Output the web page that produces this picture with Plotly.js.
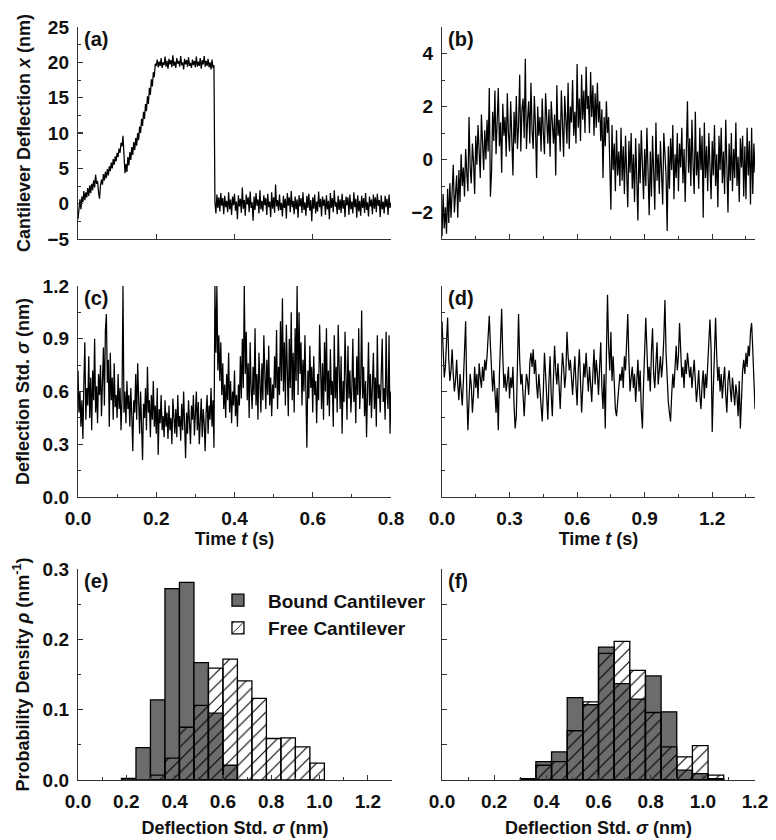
<!DOCTYPE html>
<html>
<head>
<meta charset="utf-8">
<script src="https://cdn.plot.ly/plotly-3.0.1.min.js"></script>
<style>html,body{margin:0;padding:0;background:#fff;}#chart{width:776px;height:840px;}</style>
</head>
<body>
<div id="chart"></div>
<script>
// ---------- Data ----------
// (a) bound cantilever deflection x (nm), sampled every dtA seconds, 0 .. 0.8 s
const dtA = 0.0025;
const deflA = [
-2.2,-0.5,0.6,-0.8,1.0,0.2,1.8,0.5,1.6,0.9,
2.2,1.1,2.6,1.5,2.8,1.9,3.3,2.3,4.1,2.8,
3.2,1.6,0.7,2.6,3.4,2.7,4.2,3.3,4.5,3.6,
4.9,4.0,5.3,4.6,5.8,5.0,6.3,5.5,6.7,6.0,
7.2,6.6,7.8,7.2,8.6,8.1,9.6,7.0,4.3,5.6,
4.5,6.6,5.4,7.3,6.2,8.0,6.9,8.7,7.6,9.3,
8.2,10.0,9.0,10.9,10.0,12.0,11.0,13.0,12.0,14.1,
13.1,15.2,14.1,16.4,15.4,17.6,16.6,18.6,17.9,19.8,
19.5,
20.4,19.3,20.1,19.5,20.6,19.2,20.0,19.6,20.8,19.4,
20.2,19.1,20.5,19.7,20.3,19.3,21.0,19.5,20.1,19.2,
20.6,19.8,20.2,19.4,20.9,19.6,20.0,19.0,20.5,19.7,
20.3,19.4,20.7,19.5,19.9,19.2,20.4,19.6,20.2,19.3,
20.8,19.4,20.1,19.5,20.6,19.1,20.3,19.7,20.9,19.4,
20.2,19.5,20.5,19.3,20.0,19.0,20.4,19.2,19.6,
0.2,-1.4,1.3,-0.6,0.9,-1.1,1.5,-0.3,0.8,-1.5,
1.1,-0.5,0.4,-1.2,1.6,-0.8,0.6,-1.6,1.0,-0.2,
1.4,-1.0,0.3,-2.2,1.2,-0.4,0.7,-1.3,2.3,-0.7,
0.5,-1.7,1.3,-0.1,0.9,-1.2,1.7,-0.6,0.2,-2.4,
1.0,-0.9,1.5,-0.3,0.6,-1.4,1.9,-0.8,0.4,-1.1,
1.2,-0.2,0.8,-1.6,1.4,-0.5,0.3,-1.9,1.6,-0.7,
0.9,-1.3,2.7,-0.4,0.5,-1.0,1.3,-0.9,0.1,-1.8,
1.1,-0.6,0.7,-2.1,1.5,-0.3,0.9,-1.2,1.8,-0.5,
0.4,-1.5,1.0,-0.8,0.6,-2.0,1.2,-0.4,0.8,-1.3,
1.6,-0.9,0.2,-1.7,1.1,-0.6,1.4,-1.0,0.5,-2.5,
0.9,-0.7,1.3,-1.4,0.3,-1.1,1.7,-0.5,0.7,-1.8,
1.0,-0.3,0.6,-1.6,1.2,-0.8,0.4,-2.2,1.5,-0.6,
0.8,-1.2,1.9,-0.4,0.2,-1.5,1.1,-0.9,0.6,-1.3,
1.4,-0.7,0.5,-1.9,1.0,-0.2,0.9,-1.6,1.3,-0.8,
0.3,-1.4,1.6,-0.5,0.7,-2.0,1.2,-1.1,0.4,-1.7,
1.1,-0.6,0.8,-1.3,1.5,-0.9,0.2,-1.8,1.0,-0.4,
0.6,-1.5,1.3,-0.7,0.9,-1.2,1.4,-0.3,0.5,-1.9,
1.2,-0.8,0.3,-1.4,1.1,-0.5,0.7,-1.6,1.3,-0.6,
0.1
];

// (b) free cantilever deflection x (nm), sampled every dtB seconds, 0 .. 1.39 s
const dtB = 0.005;
const deflB = [
-2.9,-1.3,-2.6,-1.8,-2.8,-1.1,-2.4,-0.9,-2.2,-1.4,
-0.2,-2.0,-1.2,-0.6,-2.2,-0.4,-1.6,0.2,-1.0,-0.3,
-1.4,0.4,-0.5,-1.2,1.6,-0.3,-0.9,0.6,-0.1,-1.3,
0.9,-0.2,1.3,0.1,-0.7,1.7,0.4,-0.4,1.1,0.0,
1.5,0.3,2.7,-1.4,-0.5,1.8,0.7,2.6,0.2,1.2,
2.7,0.5,1.4,-0.5,2.1,0.9,1.6,0.1,2.5,1.0,
0.3,2.2,1.1,-0.6,1.8,0.6,2.4,0.4,1.3,3.2,
0.3,1.9,2.3,0.8,3.8,0.4,1.5,2.2,0.6,2.9,
1.1,0.4,2.4,1.3,-0.7,2.0,0.9,1.6,0.3,2.3,
1.0,0.2,2.5,1.4,0.6,1.9,0.1,2.2,1.2,0.6,
1.7,-0.6,2.8,0.9,1.5,0.3,2.6,1.1,0.1,2.4,
1.3,0.6,2.9,0.4,2.0,1.4,3.0,0.9,1.8,0.6,
3.6,1.2,2.3,0.7,3.2,1.5,2.6,1.0,3.5,1.9,
2.4,1.0,3.3,1.6,2.8,0.9,2.5,1.2,2.9,1.4,
2.2,0.7,1.9,-0.7,1.6,0.5,2.2,1.0,1.6,-0.9,
-1.9,1.3,-0.4,0.6,-1.2,1.1,-0.6,0.3,-1.0,1.2,
-0.8,0.5,-1.3,0.9,-0.3,-1.8,0.7,-0.5,1.0,-1.1,
0.2,-1.6,0.8,-0.4,-2.3,0.6,-0.9,1.1,-0.2,-1.5,
0.4,-1.0,1.2,-0.6,-2.1,0.3,-1.4,0.9,-0.3,-1.9,
1.4,-0.8,0.2,-1.3,0.7,-0.5,-1.7,1.0,-0.2,-0.6,
-2.7,0.5,-1.1,0.8,-0.4,1.3,-1.5,0.2,-0.7,1.0,
-1.2,0.6,-0.3,1.2,-0.9,0.4,-1.6,0.7,2.2,-0.5,
0.8,-1.0,1.5,-0.2,-1.3,1.8,-0.6,0.3,-1.1,1.2,
-0.4,0.9,-2.2,1.4,-0.7,0.5,-1.2,1.0,-0.3,-1.5,
0.7,-0.6,1.3,-1.0,0.2,-1.8,0.9,-0.4,1.2,-0.9,
0.3,-1.3,1.5,-0.5,-2.0,0.6,-0.8,1.0,-1.2,0.4,
-0.7,1.4,-1.0,0.1,-1.6,0.8,-0.3,0.9,-1.4,0.5,
-1.5,1.2,-0.6,0.7,-1.7,1.2,-1.3,0.6,-0.5
];

// (c) bound cantilever deflection std sigma (nm), every dtC seconds, 0 .. 0.8 s
const dtC = 0.0025;
const sigmaC = [
0.72,0.48,0.60,0.40,0.55,0.33,0.65,0.88,0.44,0.62,
0.52,0.80,0.45,0.68,0.38,0.72,0.55,0.90,0.48,0.63,
0.42,0.70,0.58,0.75,0.46,0.64,0.85,0.52,0.95,1.04,
0.65,0.78,0.40,0.82,0.55,0.68,0.44,0.76,0.51,0.58,
0.45,0.70,0.50,0.62,0.38,0.56,1.20,0.48,0.60,0.42,
0.66,0.50,0.58,0.40,0.62,0.46,0.26,0.55,0.48,0.70,
0.44,0.76,0.52,0.36,0.60,0.42,0.21,0.53,0.45,0.62,
0.38,0.74,0.48,0.55,0.34,0.58,0.44,0.66,0.40,0.52,
0.36,0.62,0.24,0.50,0.42,0.58,0.38,0.46,0.34,0.55,
0.40,0.48,0.33,0.52,0.38,0.45,0.30,0.56,0.42,0.36,
0.50,0.34,0.58,0.40,0.46,0.32,0.53,0.38,0.60,0.43,
0.22,0.48,0.36,0.55,0.40,0.30,0.52,0.44,0.58,0.35,
0.47,0.60,0.38,0.54,0.30,0.45,0.56,0.34,0.50,0.42,
0.26,0.48,0.58,0.36,0.52,0.44,0.62,0.40,0.55,0.28,
1.20,0.82,1.20,0.72,0.92,0.66,0.88,0.58,0.76,0.50,
0.64,0.45,0.70,0.55,0.82,0.48,0.66,0.42,0.60,0.52,
0.72,0.46,0.58,0.40,0.64,0.52,0.80,0.56,0.90,0.62,
1.20,0.70,0.94,0.55,0.76,0.45,0.88,0.62,0.50,0.74,
0.58,0.96,0.52,0.70,0.44,0.82,0.60,0.48,0.76,0.55,
0.92,0.62,0.50,0.78,0.58,0.86,0.52,0.68,0.46,0.64,
0.56,0.80,0.62,0.95,0.50,0.74,0.58,1.00,0.66,1.13,
0.60,0.88,0.52,0.98,0.68,0.46,0.90,0.62,1.05,0.55,
0.82,0.48,0.96,0.66,1.20,0.58,1.05,0.70,0.88,0.52,
0.78,0.60,0.92,0.45,0.28,0.72,0.56,0.86,0.62,0.74,
0.48,0.80,0.58,0.66,0.42,0.70,0.55,0.98,0.62,0.50,
0.76,0.44,0.88,0.60,0.96,0.52,0.72,0.46,0.84,0.58,
0.66,0.40,0.92,0.56,0.74,0.48,0.98,0.62,0.50,0.80,
0.36,0.66,0.54,0.94,0.60,0.44,0.86,0.56,0.72,0.48,
0.62,0.90,0.54,0.68,0.42,0.80,0.58,0.96,0.50,0.64,
1.06,0.56,0.74,0.46,0.66,0.34,0.60,0.88,0.52,0.70,
0.45,0.62,0.82,0.50,0.68,0.40,0.92,0.56,0.64,0.48,
0.70,0.90,0.54,0.62,0.44,0.94,0.58,0.50,0.92,0.36,
0.60
];

// (d) free cantilever deflection std sigma (nm), every dtD seconds, 0 .. 1.39 s
const dtD = 0.005;
const sigmaD = [
1.00,0.80,0.68,0.74,0.90,1.02,0.78,0.66,0.72,0.84,
0.70,0.60,0.66,0.78,0.64,0.55,0.70,0.62,0.52,0.66,
0.82,1.00,0.60,0.38,0.55,0.70,0.64,0.48,0.58,0.74,
0.62,0.70,0.56,0.76,0.68,0.62,0.74,0.66,0.78,0.72,
0.80,0.96,1.03,0.86,0.70,0.60,0.72,0.56,0.48,0.62,
0.38,0.70,0.92,1.07,0.80,0.62,0.70,0.60,0.66,0.74,
0.56,0.68,0.62,0.74,0.52,0.39,0.46,0.72,1.04,0.78,
0.64,0.70,0.56,0.46,0.60,0.70,0.66,0.58,0.76,0.82,
0.74,0.84,0.70,0.78,0.64,0.56,0.70,0.62,0.50,0.43,
0.60,0.82,0.70,0.52,0.44,0.66,0.80,0.58,0.46,0.68,
0.86,0.72,0.64,0.76,0.60,0.50,0.68,0.82,0.74,0.62,
0.70,0.94,0.80,0.72,0.78,0.66,0.58,0.70,0.80,0.64,
0.52,0.72,0.84,0.66,0.48,0.62,0.76,0.68,0.82,0.70,
0.60,0.74,0.66,0.54,0.70,0.84,0.64,0.78,0.70,0.58,
0.74,0.88,0.62,0.50,0.70,0.39,0.80,1.15,0.86,0.72,
0.94,0.66,0.80,0.58,0.50,0.46,0.54,0.62,0.70,0.66,
0.74,0.62,0.80,0.72,0.92,1.04,0.78,0.60,0.68,0.74,
0.62,0.70,0.54,0.66,0.78,0.60,0.72,0.50,0.39,0.64,
0.86,1.02,0.84,0.66,0.74,0.60,0.82,0.96,0.70,0.62,
0.76,0.88,0.64,0.72,0.80,0.68,0.76,0.90,1.12,0.82,
0.66,0.54,0.48,0.43,0.58,0.70,0.62,0.78,0.86,0.72,
0.80,0.99,0.76,0.68,0.74,0.62,0.78,0.70,0.82,0.76,
0.68,0.74,0.62,0.70,0.78,0.66,0.54,0.62,0.72,0.58,
0.50,0.64,0.72,0.56,0.70,0.62,0.78,0.90,1.01,0.84,
0.37,0.62,0.88,1.02,0.80,0.66,0.74,0.60,0.70,0.56,
0.66,0.74,0.58,0.48,0.66,0.72,0.62,0.54,0.68,0.60,
0.52,0.64,0.58,0.46,0.66,0.39,0.56,0.72,0.78,0.70,
0.82,0.74,0.86,0.80,0.94,0.99,0.84,0.66,0.50
];

// (e) histograms of sigma for the time trace in (c) : bin centres (nm) and densities (1/nm)
const binWidth = 0.06;
const boundCentersE = [0.21,0.27,0.33,0.39,0.45,0.51,0.57,0.63];
const boundDensityE = [0.0024,0.046,0.114,0.272,0.281,0.167,0.095,0.021];
const freeCentersE  = [0.33,0.39,0.45,0.51,0.57,0.63,0.69,0.75,0.81,0.87,0.93,0.99];
const freeDensityE  = [0.007,0.031,0.075,0.106,0.159,0.172,0.141,0.116,0.059,0.060,0.047,0.024];

// (f) histograms for the free cantilever traces
const centersF      = [0.33,0.39,0.45,0.51,0.57,0.63,0.69,0.75,0.81,0.87,0.93,0.99,1.05];
const boundDensityF = [0.002,0.026,0.040,0.117,0.107,0.189,0.137,0.115,0.148,0.097,0.014,0.009,0.002];
const freeDensityF  = [0.000,0.021,0.026,0.070,0.111,0.180,0.197,0.156,0.096,0.047,0.033,0.049,0.007];

const seriesNames = ['Bound Cantilever','Free Cantilever'];
const panelLabels = ['(a)','(b)','(c)','(d)','(e)','(f)'];

// ---------- Styling ----------
const FONT = 'Liberation Sans, Arial, Helvetica, sans-serif';
const INK = '#111111';
const AX = '#333333';
const GRAY = '#6c6c6c';

function times(vals, dt) { return vals.map((_, i) => +(i * dt).toFixed(5)); }

function axis(o) {
  const a = {
    showline: true, linecolor: AX, linewidth: 1.2,
    showgrid: false, zeroline: false, mirror: false,
    ticks: 'inside', ticklen: 5, tickwidth: 1.2, tickcolor: AX,
    tickfont: {family: FONT, size: 19, color: INK, weight: 'bold'},
    ticklabelstandoff: 4,
    fixedrange: true
  };
  return Object.assign(a, o);
}
function minor(d) { return {dtick: d, ticks: 'inside', ticklen: 3, tickwidth: 1, tickcolor: AX, showgrid: false}; }
const titleFont = {family: FONT, size: 18, color: INK, weight: 'bold'};

const LX = [78/776, 391/776];
const RX = [442/776, 755/776];
const Y1 = [1-239/840, 1-27/840];
const Y2 = [1-497/840, 1-286/840];
const Y3 = [1-780/840, 1-569/840];

const lineStyle = {color: '#000', width: 1.25};
const traces = [
  {x: times(deflA, dtA), y: deflA, xaxis: 'x', yaxis: 'y', type: 'scatter', mode: 'lines', line: lineStyle, showlegend: false, hoverinfo: 'skip'},
  {x: times(deflB, dtB), y: deflB, xaxis: 'x2', yaxis: 'y2', type: 'scatter', mode: 'lines', line: lineStyle, showlegend: false, hoverinfo: 'skip'},
  {x: times(sigmaC, dtC), y: sigmaC, xaxis: 'x3', yaxis: 'y3', type: 'scatter', mode: 'lines', line: lineStyle, showlegend: false, hoverinfo: 'skip'},
  {x: times(sigmaD, dtD), y: sigmaD, xaxis: 'x4', yaxis: 'y4', type: 'scatter', mode: 'lines', line: lineStyle, showlegend: false, hoverinfo: 'skip'}
];

const boundMarker = {color: GRAY, line: {color: '#000', width: 1.3}};
const freeMarker = {
  color: 'rgba(255,255,255,0)',
  line: {color: '#000', width: 1.3},
  pattern: {shape: '/', fgcolor: '#000', bgcolor: 'rgba(255,255,255,0)', fillmode: 'replace', size: 9, solidity: 0.12}
};
traces.push(
  {type: 'bar', x: boundCentersE, y: boundDensityE, width: binWidth, xaxis: 'x5', yaxis: 'y5', name: seriesNames[0], marker: boundMarker, showlegend: true},
  {type: 'bar', x: freeCentersE, y: freeDensityE, width: binWidth, xaxis: 'x5', yaxis: 'y5', name: seriesNames[1], marker: freeMarker, showlegend: true},
  {type: 'bar', x: centersF, y: boundDensityF, width: binWidth, xaxis: 'x6', yaxis: 'y6', name: seriesNames[0], marker: boundMarker, showlegend: false},
  {type: 'bar', x: centersF, y: freeDensityF, width: binWidth, xaxis: 'x6', yaxis: 'y6', name: seriesNames[1], marker: freeMarker, showlegend: false}
);

const axisRefs = [['x','y'],['x2','y2'],['x3','y3'],['x4','y4'],['x5','y5'],['x6','y6']];
const annotations = panelLabels.map((t, i) => ({
  text: '<b>' + t + '</b>', xref: axisRefs[i][0] + ' domain', yref: axisRefs[i][1] + ' domain',
  x: 0.012, y: 1.005, xanchor: 'left', yanchor: 'top', showarrow: false,
  font: {family: FONT, size: 20, color: INK}
}));

const layout = {
  width: 776, height: 840,
  margin: {l: 0, r: 0, t: 0, b: 0},
  paper_bgcolor: '#fff', plot_bgcolor: '#fff',
  barmode: 'overlay', bargap: 0,
  font: {family: FONT, color: INK},
  showlegend: true,
  legend: {
    x: 0.268, y: 0.308, xanchor: 'left', yanchor: 'top',
    bgcolor: 'rgba(255,255,255,0)', borderwidth: 0,
    font: {family: FONT, size: 19, color: INK, weight: 'bold'},
    itemwidth: 50, tracegroupgap: 0
  },
  annotations: annotations,
  // (a)
  xaxis: axis({domain: LX, anchor: 'y', range: [0, 0.8], dtick: 0.2, showticklabels: false}),
  yaxis: axis({domain: Y1, anchor: 'x', range: [-5, 25], dtick: 5, tick0: 0, minor: minor(2.5),
    title: {text: 'Cantilever Deflection <i>x</i> (nm)', font: titleFont, standoff: 12}}),
  // (b)
  xaxis2: axis({domain: RX, anchor: 'y2', range: [0, 1.39], dtick: 0.3, minor: minor(0.15), showticklabels: false}),
  yaxis2: axis({domain: Y1, anchor: 'x2', range: [-3, 5], dtick: 2, tick0: 0, minor: minor(1)}),
  // (c)
  xaxis3: axis({domain: LX, anchor: 'y3', range: [0, 0.8], dtick: 0.2, tickformat: '.1f', minor: minor(0.1),
    title: {text: 'Time <i>t</i> (s)', font: titleFont, standoff: 3}}),
  yaxis3: axis({domain: Y2, anchor: 'x3', range: [0, 1.2], dtick: 0.3, tickformat: '.1f', minor: minor(0.15),
    title: {text: 'Deflection Std. <i>σ</i> (nm)', font: titleFont, standoff: 8}}),
  // (d)
  xaxis4: axis({domain: RX, anchor: 'y4', range: [0, 1.39], dtick: 0.3, tickformat: '.1f', minor: minor(0.15),
    title: {text: 'Time <i>t</i> (s)', font: titleFont, standoff: 3}}),
  yaxis4: axis({domain: Y2, anchor: 'x4', range: [0, 1.2], dtick: 0.3, minor: minor(0.15), showticklabels: false}),
  // (e)
  xaxis5: axis({domain: [78/776, 392/776], anchor: 'y5', range: [0, 1.3], dtick: 0.2, tickformat: '.1f', minor: minor(0.1),
    title: {text: 'Deflection Std. <i>σ</i> (nm)', font: titleFont, standoff: 10}}),
  yaxis5: axis({domain: Y3, anchor: 'x5', range: [0, 0.3], dtick: 0.1, tickformat: '.1f', minor: minor(0.05),
    title: {text: 'Probability Density <i>ρ</i> (nm<sup>-1</sup>)', font: titleFont, standoff: 8}}),
  // (f)
  xaxis6: axis({domain: RX, anchor: 'y6', range: [0, 1.2], dtick: 0.2, tickformat: '.1f', minor: minor(0.1),
    title: {text: 'Deflection Std. <i>σ</i> (nm)', font: titleFont, standoff: 10}}),
  yaxis6: axis({domain: Y3, anchor: 'x6', range: [0, 0.3], dtick: 0.05, showticklabels: false})
};

Plotly.newPlot('chart', traces, layout, {staticPlot: true, displayModeBar: false});
</script>
</body>
</html>
